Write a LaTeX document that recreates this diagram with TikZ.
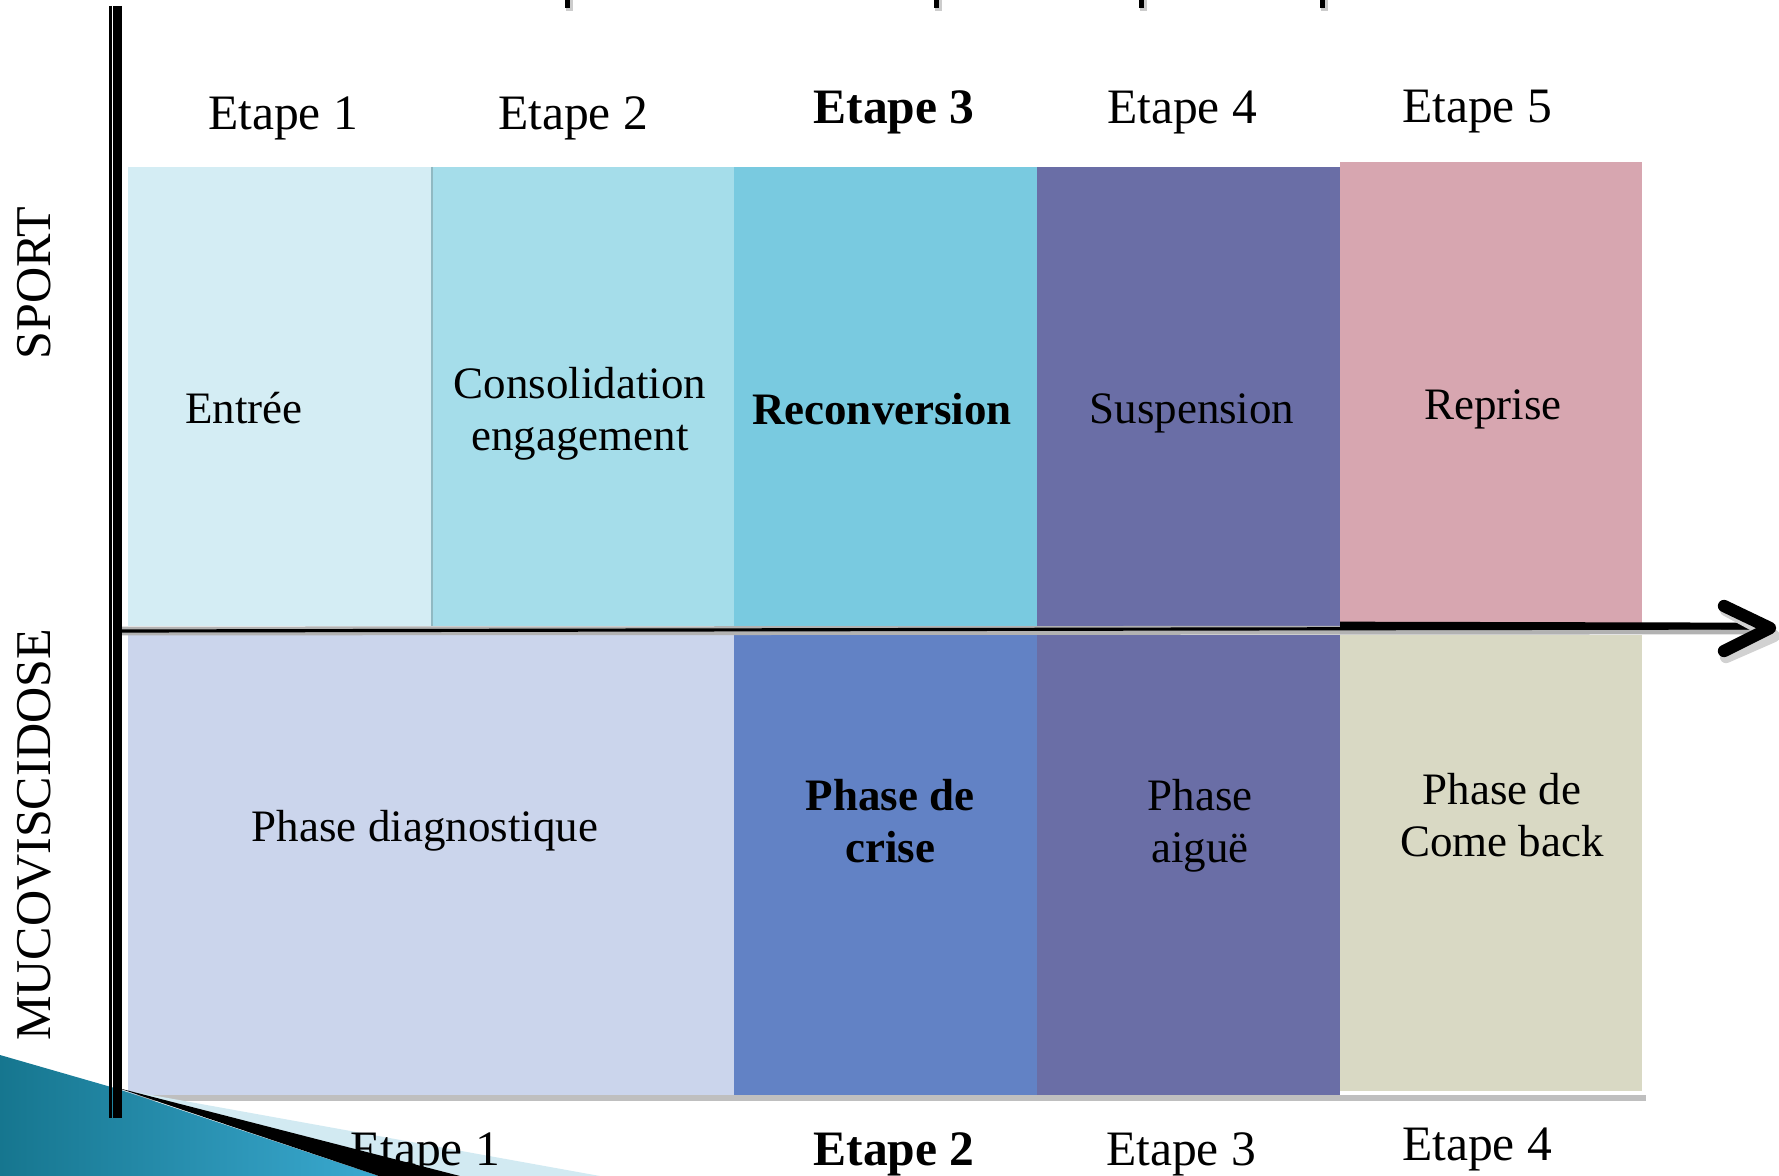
\documentclass[tikz,border=0pt]{standalone}
\usepackage{fontspec}
\setmainfont{Liberation Serif}
\usepackage{xcolor}
\usepackage{tikz}
\usetikzlibrary{calc}

\definecolor{entreeC}{HTML}{D4EDF4}
\definecolor{consolC}{HTML}{A5DDEA}
\definecolor{reconvC}{HTML}{79CAE0}
\definecolor{suspC}{HTML}{6A6EA6}
\definecolor{repriseC}{HTML}{D7A6B0}
\definecolor{diagC}{HTML}{CBD5EC}
\definecolor{criseC}{HTML}{6282C5}
\definecolor{comebackC}{HTML}{D9D9C4}
\definecolor{cornerA}{HTML}{16768F}
\definecolor{cornerB}{HTML}{3AA9D0}
\definecolor{bandC}{HTML}{D2EAF2}

\tikzset{
  boxtext/.style={font=\fontsize{25.6}{29.6}\selectfont, align=center, inner sep=0pt},
  steplabel/.style={font=\fontsize{28.2}{30}\selectfont, inner sep=0pt},
  rowlabel/.style={font=\fontsize{28.5}{30}\selectfont, rotate=90, inner sep=0pt},
}

\begin{document}
\begin{tikzpicture}[x=0.02cm, y=-0.02cm]
\useasboundingbox (0,0) rectangle (1779,1176);

% cut-off title strokes at the very top
\foreach \xm in {567, 936, 1141, 1322}{
  \fill[black!20] (\xm-1,0) rectangle (\xm+6,11);
  \fill[black] (\xm-2.5,0) rectangle (\xm+2.5,8);
}

% shadow under the lower row
\fill[black!25] (132,1095) rectangle (1646,1101);

% SPORT row
\foreach \xa/\xb/\col in {128/432/entreeC, 432/734/consolC, 734/1037/reconvC, 1037/1340/suspC}{
  \fill[\col] (\xa,167) rectangle (\xb,626);
}
\draw[consolC!80!black!90, line width=0.6pt] (432,167) -- (432,626);
\fill[repriseC] (1340,162) rectangle (1642,626);

% MUCOVISCIDOSE row
\fill[diagC] (128,635) rectangle (734,1095);
\fill[criseC] (734,635) rectangle (1037,1095);
\fill[suspC] (1037,635) rectangle (1340,1095);
\fill[comebackC] (1340,635) rectangle (1642,1091);

% axis
\coordinate (origin) at (122,631);
\coordinate (tip) at (1770,628);
\draw[black!30, line width=5pt] (origin) -- ($(tip)+(-12,2)$);
\draw[black, line width=1.8pt] (origin) -- ($(tip)+(-12,0)$);
\draw[black, line width=3.8pt] (1340,625) -- ($(tip)+(-10,-2)$);
% arrow head (chevron)
\draw[black!18, line width=7pt, line cap=round, line join=round]
  ($(tip)+(-44,-18)$) -- ($(tip)+(4,8)$) -- ($(tip)+(-44,29)$);
\draw[black, line width=7pt, line cap=round, line join=round]
  ($(tip)+(-46,-22)$) -- (tip) -- ($(tip)+(-46,23)$);

% step labels above
\foreach \n/\xx/\yy/\f in {1/283/118/\mdseries, 2/573/118/\mdseries, 3/894/112/\bfseries, 4/1182/112/\mdseries, 5/1477/112/\mdseries}{
  \node[steplabel] (top\n) at (\xx,\yy) {\f Etape \n};
}

% row labels
\node[rowlabel] (sport) at (34,283) {SPORT};
\node[rowlabel] (muco) at (34,835) {MUCOVISCIDOSE};

% texts in the boxes
\node[boxtext] (entree) at (244,408) {Entrée};
\node[boxtext] (consol) at (580,414) {Consolidation\\engagement};
\node[boxtext, font=\fontsize{25.6}{29.6}\selectfont\bfseries] (reconv) at (882,409) {Reconversion};
\node[boxtext] (susp) at (1192,413) {Suspension};
\node[boxtext] (reprise) at (1493,409) {Reprise};

\node[boxtext] (diag) at (425,831) {Phase diagnostique};
\node[boxtext, font=\fontsize{25.6}{29.6}\selectfont\bfseries] (crise) at (890,821) {Phase de\\crise};
\node[boxtext] (aigue) at (1200,826) {Phase\\aiguë};
\node[boxtext] (comeback) at (1502,815) {Phase de\\Come back};

% corner decoration, light band first
\fill[bandC] (118,1089) -- (600,1176) -- (460,1176) -- cycle;

% step labels below
\node[steplabel] (bot1) at (425,1154) {Etape 1};
\node[steplabel, font=\fontsize{28.2}{30}\selectfont\bfseries] (bot2) at (894,1154) {Etape 2};
\node[steplabel] (bot3) at (1181,1154) {Etape 3};
\node[steplabel] (bot4) at (1477,1149) {Etape 4};

% corner decoration, blue wedge and black edge
\shade[left color=cornerA, right color=cornerB]
  (0,1055) -- (118,1089) -- (379,1176) -- (0,1176) -- cycle;
\fill[black] (118,1088) -- (460,1176) -- (379,1176) -- cycle;

% vertical axis
\draw[black, line width=1.4pt] (110.5,6) -- (110.5,1118);
\draw[black, line width=5pt] (117.5,6) -- (117.5,1118);

\end{tikzpicture}
\end{document}
